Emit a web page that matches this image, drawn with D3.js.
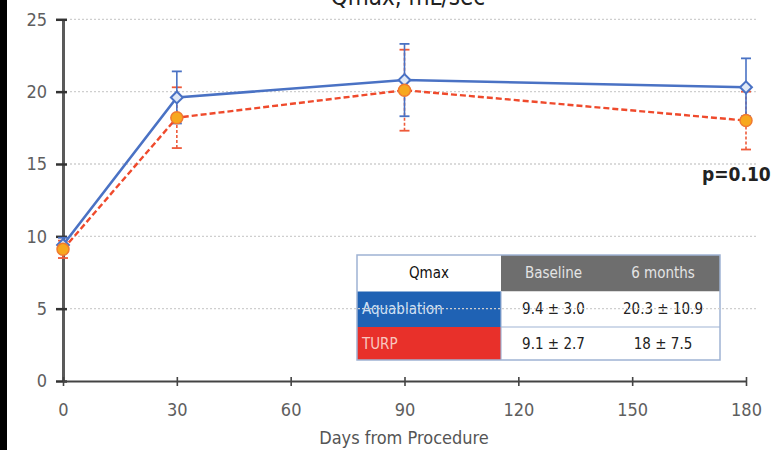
<!DOCTYPE html>
<html>
<head>
<meta charset="utf-8">
<script src="https://cdn.jsdelivr.net/npm/d3@7"></script>
<style>
  html, body { margin: 0; padding: 0; background: #fff; }
  svg { display: block; }
  text { font-family: "Liberation Sans Narrow", "DejaVu Sans Condensed", "Liberation Sans", sans-serif; }
</style>
</head>
<body>
<svg id="chart" width="776" height="450"></svg>
<script>
// Qmax over time after the procedure, mean ± error per group
const days = [0, 30, 90, 180];
const aquaMean = [9.4, 19.6, 20.8, 20.3];
const aquaErr = [0.5, 1.8, 2.5, 2.0];
const turpMean = [9.1, 18.2, 20.1, 18.0];
const turpErr = [0.6, 2.1, 2.8, 2.0];

const xTicks = [0, 30, 60, 90, 120, 150, 180];
const yTicks = [0, 5, 10, 15, 20, 25];
const gridTicks = [5, 10, 15, 20, 25];

// summary table
const tableHeader = ["Qmax", "Baseline", "6 months"];
const tableGroups = ["Aquablation", "TURP"];
const tableBaseline = ["9.4 \u00b1 3.0", "9.1 \u00b1 2.7"];
const tableSixMonths = ["20.3 \u00b1 10.9", "18 \u00b1 7.5"];

const titleText = "Qmax, mL/sec";
const xTitle = "Days from Procedure";
const pText = "p=0.10";

const svg = d3.select("#chart");
const W = 776, H = 450;

const x = d3.scaleLinear().domain([0, 180]).range([63, 746]);
const y = d3.scaleLinear().domain([0, 25]).range([381, 19.3]);

// dark strip on the left edge
svg.append("rect").attr("x", 0).attr("y", 0).attr("width", 7).attr("height", H).attr("fill", "#000");

// title (partly above the top edge)
svg.append("text").attr("x", 408).attr("y", 5).attr("text-anchor", "middle")
  .attr("font-size", 24).attr("fill", "#222").text(titleText);

// summary table
const tX = [357, 501, 606, 720];
const tY = [255, 291.5, 327, 360];
const tg = svg.append("g");
const groupFill = ["#1f62b4", "#e8302a"];
const groupText = ["#cfe0f5", "#f8c8c0"];
// header
tg.append("rect").attr("x", tX[0]).attr("y", tY[0]).attr("width", tX[1] - tX[0]).attr("height", tY[1] - tY[0]).attr("fill", "#fff");
tg.append("rect").attr("x", tX[1]).attr("y", tY[0]).attr("width", tX[3] - tX[1]).attr("height", tY[1] - tY[0]).attr("fill", "#6e6e6e");
tableHeader.forEach((h, i) => {
  tg.append("text").attr("x", (tX[i] + tX[i + 1]) / 2).attr("y", (tY[0] + tY[1]) / 2 + 5)
    .attr("text-anchor", "middle").attr("font-size", 15)
    .attr("fill", i === 0 ? "#111" : "#e4e4e4").text(h);
});
tableGroups.forEach((g, r) => {
  const y0 = tY[r + 1], y1 = tY[r + 2];
  tg.append("rect").attr("x", tX[0]).attr("y", y0).attr("width", tX[1] - tX[0]).attr("height", y1 - y0).attr("fill", groupFill[r]);
  tg.append("rect").attr("x", tX[1]).attr("y", y0).attr("width", tX[3] - tX[1]).attr("height", y1 - y0).attr("fill", "#fff");
  tg.append("text").attr("x", tX[0] + 5).attr("y", (y0 + y1) / 2 + 5).attr("font-size", 15)
    .attr("fill", groupText[r]).text(g);
  tg.append("text").attr("x", (tX[1] + tX[2]) / 2).attr("y", (y0 + y1) / 2 + 5).attr("text-anchor", "middle")
    .attr("font-size", 15).attr("fill", "#222").text(tableBaseline[r]);
  tg.append("text").attr("x", (tX[2] + tX[3]) / 2).attr("y", (y0 + y1) / 2 + 5).attr("text-anchor", "middle")
    .attr("font-size", 15).attr("fill", "#222").text(tableSixMonths[r]);
});
// table rules
tg.append("rect").attr("x", tX[0]).attr("y", tY[0]).attr("width", tX[3] - tX[0]).attr("height", tY[3] - tY[0])
  .attr("fill", "none").attr("stroke", "#9fb3d3").attr("stroke-width", 1.5);
[tY[2]].forEach(v => tg.append("line").attr("x1", tX[1]).attr("x2", tX[3]).attr("y1", v).attr("y2", v)
  .attr("stroke", "#9fb3d3").attr("stroke-width", 1.2));
tg.append("line").attr("x1", tX[1]).attr("x2", tX[1]).attr("y1", tY[1]).attr("y2", tY[3])
  .attr("stroke", "#9fb3d3").attr("stroke-width", 1.2);

// dotted grid
svg.append("g").selectAll("line").data(gridTicks).join("line")
  .attr("x1", 70).attr("x2", 757)
  .attr("y1", d => y(d)).attr("y2", d => y(d))
  .attr("stroke", "#cfcfcf").attr("stroke-width", 1.3).attr("stroke-dasharray", "2,2");

// y axis
const yAxis = d3.axisLeft(y).tickValues(yTicks).tickSize(0).tickPadding(16);
const gy = svg.append("g").attr("transform", "translate(63,0)").call(yAxis);
gy.select(".domain").attr("stroke", "#5a5a5a").attr("stroke-width", 3);
gy.selectAll(".tick text").attr("font-size", 18).attr("fill", "#5e5e5e")
  .attr("font-family", "\"Liberation Sans Narrow\", \"DejaVu Sans Condensed\", sans-serif");
gy.selectAll(".tick").append("line").attr("x1", -7).attr("x2", 4)
  .attr("stroke", "#333").attr("stroke-width", 2.5);

// x axis
const xAxis = d3.axisBottom(x).tickValues(xTicks).tickSize(0).tickPadding(22);
const gx = svg.append("g").attr("transform", "translate(0,381)").call(xAxis);
gx.select(".domain").attr("stroke", "#444").attr("stroke-width", 2);
gx.selectAll(".tick text").attr("font-size", 18).attr("fill", "#5e5e5e")
  .attr("font-family", "\"Liberation Sans Narrow\", \"DejaVu Sans Condensed\", sans-serif");
gx.selectAll(".tick").append("line").attr("y1", -4).attr("y2", 5)
  .attr("stroke", "#444").attr("stroke-width", 1.6);

svg.append("text").attr("x", 404).attr("y", 444).attr("text-anchor", "middle")
  .attr("font-size", 18).attr("fill", "#555").text(xTitle);

// series
const aqua = days.map((d, i) => ({ d, v: aquaMean[i], e: aquaErr[i] }));
const turp = days.map((d, i) => ({ d, v: turpMean[i], e: turpErr[i] }));
const line = d3.line().x(p => x(p.d)).y(p => y(p.v));

function errorBars(data, color, dash) {
  const g = svg.append("g");
  g.selectAll("line.v").data(data).join("line").attr("class", "v")
    .attr("x1", p => x(p.d)).attr("x2", p => x(p.d))
    .attr("y1", p => y(p.v - p.e)).attr("y2", p => y(p.v + p.e))
    .attr("stroke", color).attr("stroke-width", 1.6).attr("stroke-dasharray", dash);
  ["lo", "hi"].forEach(k => {
    g.selectAll("line." + k).data(data).join("line").attr("class", k)
      .attr("x1", p => x(p.d) - 5).attr("x2", p => x(p.d) + 5)
      .attr("y1", p => y(k === "lo" ? p.v - p.e : p.v + p.e))
      .attr("y2", p => y(k === "lo" ? p.v - p.e : p.v + p.e))
      .attr("stroke", color).attr("stroke-width", 1.8);
  });
}

errorBars(turp, "#ee5a3a", "3,2");
errorBars(aqua, "#4a72c4", null);

svg.append("path").datum(turp).attr("d", line).attr("fill", "none")
  .attr("stroke", "#ef4a2c").attr("stroke-width", 2.4).attr("stroke-dasharray", "6,3");
svg.append("path").datum(aqua).attr("d", line).attr("fill", "none")
  .attr("stroke", "#4a72c4").attr("stroke-width", 2.6);

svg.append("g").selectAll("path").data(aqua).join("path")
  .attr("d", d3.symbol(d3.symbolSquare, 70)())
  .attr("transform", p => `translate(${x(p.d)},${y(p.v)}) rotate(45)`)
  .attr("fill", "#dfe8f6").attr("stroke", "#4a72c4").attr("stroke-width", 2);

svg.append("g").selectAll("circle").data(turp).join("circle")
  .attr("cx", p => x(p.d)).attr("cy", p => y(p.v)).attr("r", 6)
  .attr("fill", "#f7a81e").attr("stroke", "#f07a30").attr("stroke-width", 1.5);

// significance note
svg.append("text").attr("x", 702).attr("y", 181).attr("font-size", 19).attr("font-weight", "bold")
  .attr("fill", "#222").text(pText);
</script>
</body>
</html>
